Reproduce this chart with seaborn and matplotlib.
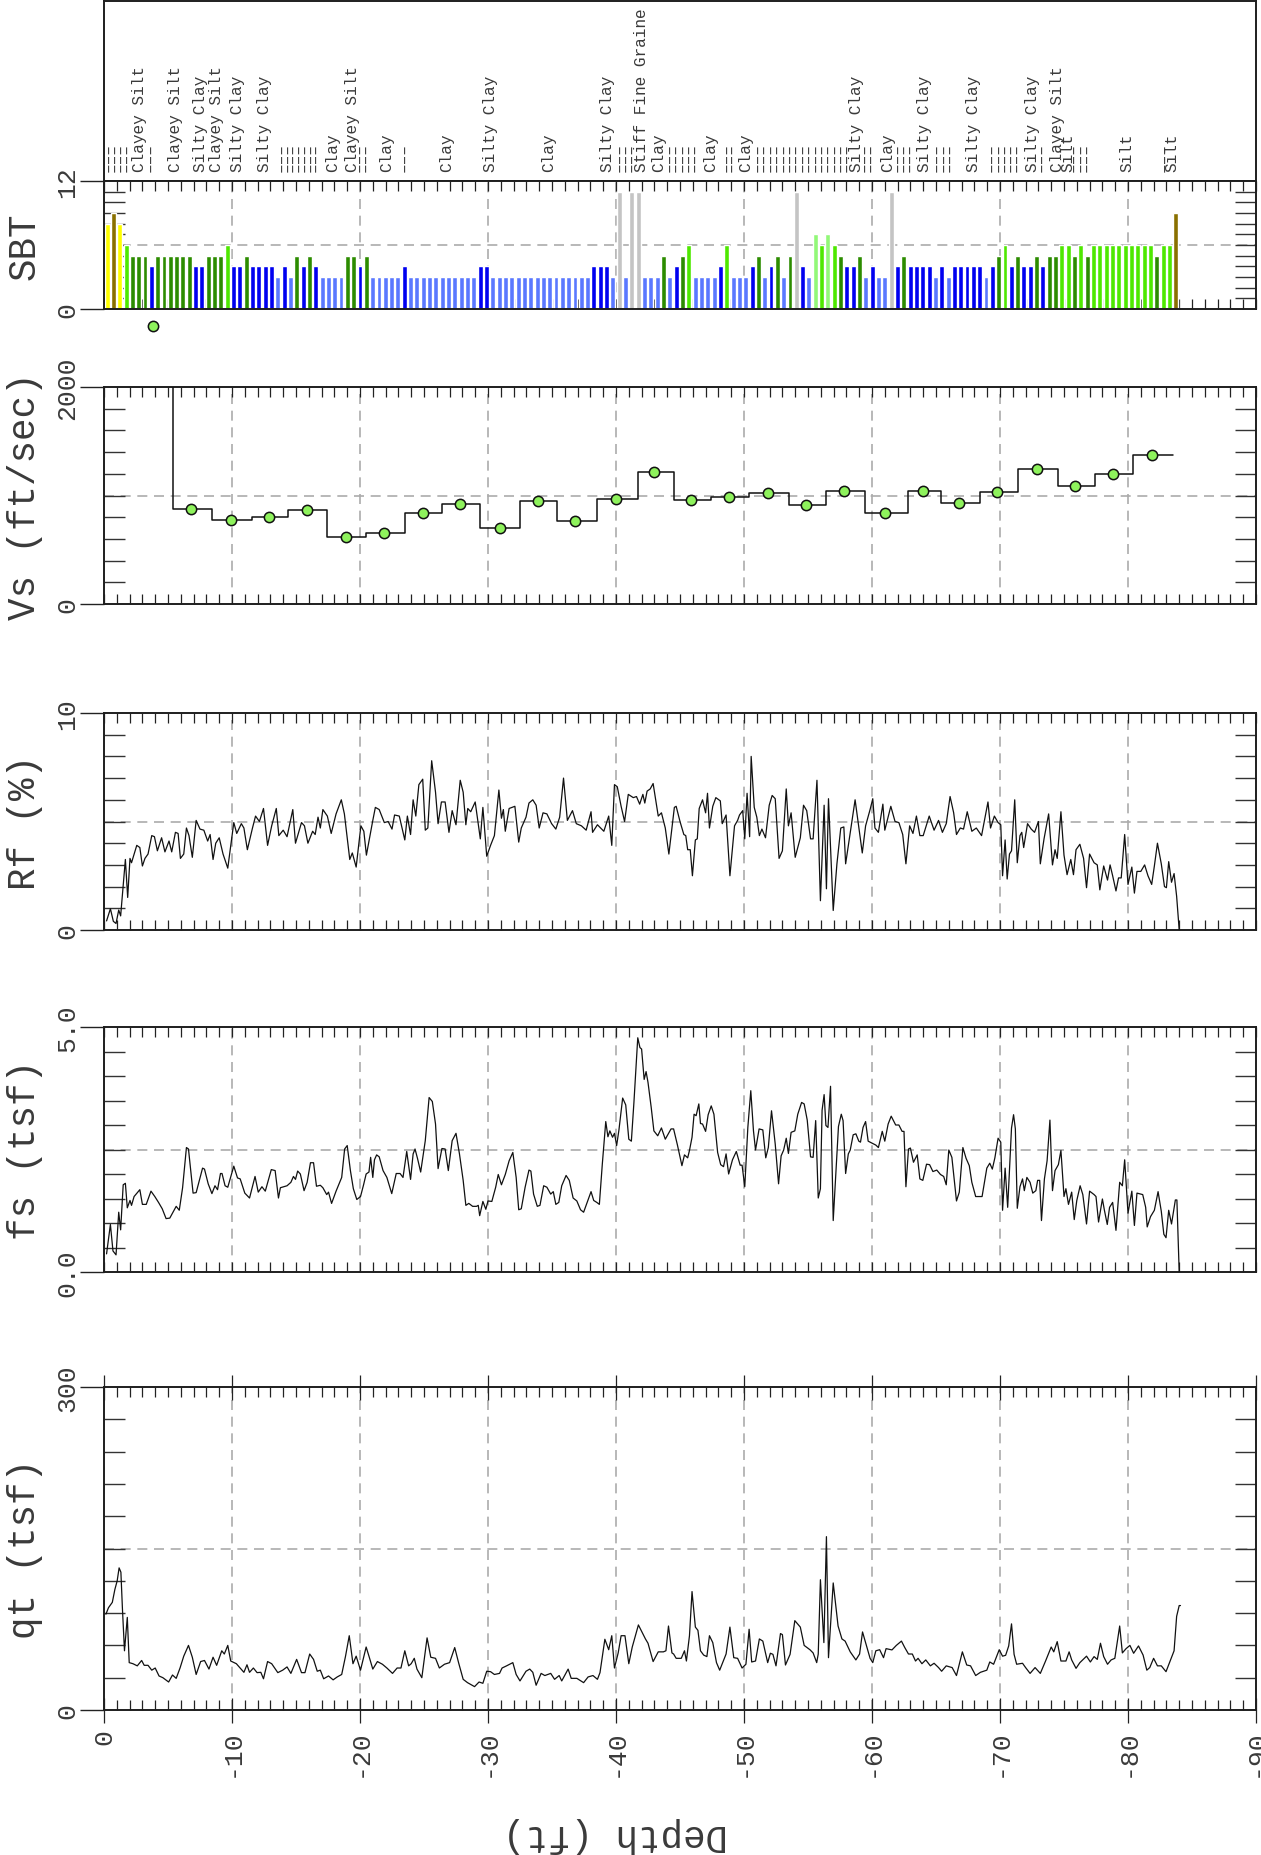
import numpy as np
import matplotlib
matplotlib.use("Agg")
import matplotlib.pyplot as plt
from matplotlib.ticker import MultipleLocator
import seaborn as sns

# ---- data -------------------------------------------------------------
# soil behaviour type per 0.5 ft bin (Robertson zones)
sbt_zone = [8, 9, 8, 6, 5, 5, 5, 4, 5, 5, 5, 5, 5, 5, 4, 4, 5, 5, 5, 6,
            4, 4, 5, 4, 4, 4, 4, 3, 4, 3, 5, 4, 5, 4, 3, 3, 3, 3, 5, 5,
            4, 5, 3, 3, 3, 3, 3, 4, 3, 3, 3, 3, 3, 3, 3, 3, 3, 3, 3, 4,
            4, 3, 3, 3, 3, 3, 3, 3, 3, 3, 3, 3, 3, 3, 3, 3, 3, 4, 4, 4,
            3, 11, 3, 11, 11, 3, 3, 3, 5, 3, 4, 5, 6, 3, 3, 3, 3, 4, 6, 3,
            3, 3, 4, 5, 3, 4, 5, 3, 5, 11, 4, 3, 7, 6, 7, 6, 5, 4, 4, 5,
            3, 4, 3, 3, 11, 4, 5, 4, 4, 4, 4, 3, 4, 3, 4, 4, 4, 4, 4, 3,
            4, 5, 6, 4, 5, 4, 4, 5, 4, 5, 5, 6, 6, 5, 6, 5, 6, 6, 6, 6,
            6, 6, 6, 6, 6, 6, 5, 6, 6, 9]
sbt_first = 0.24
sbt_step = 0.494
sbt_colors = {3: "#5a78ff", 4: "#0000f0", 5: "#2c8c00", 6: "#4ee800",
              7: "#92f878", 8: "#ffff00", 9: "#8a7000", 11: "#c4c4c4"}

THIN = "\u2013\u2013\u2013"   # marker used for layers too thin to name
label_depth = [0.42, 0.87, 1.3, 1.77, 2.8, 3.7, 5.57, 7.5, 8.8, 10.45, 12.5,
               13.9, 14.35, 14.8, 15.25, 15.7, 16.15, 16.6, 17.9, 19.4, 20.0,
               20.5, 22.1, 23.5, 26.8, 30.2, 34.7, 39.3, 40.35, 40.8, 41.25,
               42.0, 43.3, 44.2, 44.7, 45.2, 45.7, 46.2, 47.4, 48.65, 49.1,
               50.1, 51.1, 51.6, 52.1, 52.6, 53.1, 53.6, 54.1, 54.6, 55.1,
               55.6, 56.1, 56.6, 57.1, 57.6, 58.05, 58.75, 59.45, 59.9, 61.25,
               62.0, 62.5, 63.0, 64.1, 65.1, 65.6, 66.1, 67.9, 69.4, 69.9,
               70.4, 70.85, 71.3, 72.5, 73.3, 74.5, 75.3, 75.8, 76.3, 76.8,
               79.9, 82.9, 83.4]
label_text = [THIN, THIN, THIN, THIN, "Clayey Silt", THIN, "Clayey Silt",
              "Silty Clay", "Clayey Silt", "Silty Clay", "Silty Clay",
              THIN, THIN, THIN, THIN, THIN, THIN, THIN, "Clay",
              "Clayey Silt", THIN, THIN, "Clay", THIN, "Clay", "Silty Clay",
              "Clay", "Silty Clay", THIN, THIN, THIN, "Stiff Fine Graine",
              "Clay", THIN, THIN, THIN, THIN, THIN, "Clay", THIN, THIN,
              "Clay", THIN, THIN, THIN, THIN, THIN, THIN, THIN, THIN,
              THIN, THIN, THIN, THIN, THIN, THIN, THIN, "Silty Clay",
              THIN, THIN, "Clay", THIN, THIN, THIN, "Silty Clay", THIN,
              THIN, THIN, "Silty Clay", THIN, THIN, THIN, THIN, THIN,
              "Silty Clay", THIN, "Clayey Silt", "Silt", THIN, THIN, THIN,
              "Silt", THIN, "Silt"]

vs_bounds = [0, 5.4, 8.45, 11.55, 14.4, 17.4, 20.5, 23.5, 26.4, 29.4, 32.5,
             35.4, 38.5, 41.7, 44.5, 47.4, 50.4, 53.5, 56.4, 59.45, 62.8,
             65.4, 68.4, 71.4, 74.5, 77.4, 80.4, 83.5]
vs_value = [2560, 876, 771, 802, 866, 614, 657, 839, 922, 700, 949, 762, 968,
            1214, 962, 986, 1023, 909, 1041, 839, 1041, 928, 1029, 1241, 1084,
            1198, 1376]
vs_test_depth = [3.8, 6.8, 9.9, 12.9, 15.85, 18.9, 21.9, 24.9, 27.8, 30.9,
                 33.9, 36.8, 40.0, 43.0, 45.85, 48.8, 51.85, 54.85, 57.8, 61.0,
                 64.0, 66.8, 69.8, 72.9, 75.85, 78.8, 81.85]

rf_depth = [0.2, 0.5, 0.73, 0.94, 1.15, 1.3, 1.67, 1.85, 2.03, 2.15, 2.56, 2.8,
            3.0, 3.2, 3.44, 3.73, 3.94, 4.17, 4.5, 4.76, 5.08, 5.29, 5.58, 5.79,
            5.97, 6.23, 6.44, 6.64, 6.9, 7.2, 7.5, 7.8, 8.1, 8.29, 8.52, 8.73,
            9.0, 9.3, 9.67, 10.14, 10.37, 10.73, 10.93, 11.2, 11.6, 11.84,
            12.14, 12.46, 12.78, 13.1, 13.46, 13.66, 14.0, 14.3, 14.75, 14.96,
            15.43, 15.66, 15.93, 16.3, 16.5, 16.72, 16.9, 17.1, 17.45, 17.75,
            18.13, 18.54, 18.78, 19.2, 19.4, 19.7, 20.07, 20.3, 20.5, 21.0,
            21.2, 21.5, 21.9, 22.2, 22.5, 22.7, 23.07, 23.5, 23.7, 23.95, 24.15,
            24.36, 24.6, 24.9, 25.1, 25.3, 25.6, 25.9, 26.1, 26.36, 26.65,
            26.95, 27.2, 27.5, 27.83, 28.06, 28.27, 28.42, 28.65, 29.0, 29.4,
            29.6, 29.9, 30.2, 30.5, 30.85, 31.05, 31.2, 31.35, 31.65, 32.1,
            32.4, 32.6, 32.97, 33.2, 33.5, 33.76, 34.0, 34.3, 34.6, 34.97, 35.3,
            35.6, 35.9, 36.2, 36.6, 36.9, 37.3, 37.67, 38.05, 38.17, 38.55,
            39.05, 39.43, 39.67, 39.88, 40.1, 40.4, 40.67, 40.96, 41.35, 41.6,
            41.85, 42.1, 42.25, 42.43, 42.67, 42.9, 43.3, 43.55, 43.85, 44.13,
            44.56, 44.7, 45.0, 45.3, 45.45, 45.6, 45.8, 45.97, 46.2, 46.35,
            46.5, 46.76, 47.0, 47.15, 47.3, 47.56, 47.8, 48.15, 48.3, 48.6,
            48.9, 49.26, 49.5, 49.65, 49.9, 50.06, 50.24, 50.44, 50.56, 50.8,
            51.0, 51.2, 51.4, 51.68, 51.97, 52.2, 52.44, 52.74, 53.0, 53.3,
            53.47, 53.68, 54.0, 54.4, 54.65, 54.9, 55.2, 55.4, 55.7, 55.97,
            56.26, 56.44, 56.6, 56.97, 57.26, 57.56, 57.8, 57.94, 58.3, 58.68,
            58.97, 59.24, 59.5, 59.85, 60.06, 60.23, 60.5, 60.85, 61.0, 61.47,
            61.8, 62.1, 62.4, 62.65, 62.94, 63.2, 63.47, 63.74, 64.0, 64.47,
            64.85, 65.2, 65.5, 65.8, 66.1, 66.38, 66.6, 66.9, 67.15, 67.44,
            67.8, 68.15, 68.56, 69.06, 69.26, 69.56, 69.85, 70.06, 70.2, 70.4,
            70.56, 70.74, 70.9, 71.15, 71.35, 71.56, 71.7, 71.85, 72.15, 72.44,
            72.7, 73.0, 73.15, 73.44, 73.8, 74.1, 74.3, 74.47, 74.76, 75.0,
            75.24, 75.53, 75.74, 75.94, 76.24, 76.53, 76.76, 77.0, 77.35, 77.6,
            77.8, 78.1, 78.4, 78.6, 78.8, 79.06, 79.26, 79.47, 79.74, 80.0,
            80.3, 80.5, 80.7, 81.0, 81.3, 81.56, 81.85, 82.06, 82.3, 82.6,
            82.85, 83.0, 83.18, 83.4, 83.6, 83.8, 84.0]
rf_value = [0.42, 0.98, 0.4, 0.3, 0.92, 0.65, 3.25, 1.5, 3.3, 3.1, 3.9, 3.8,
            2.95, 3.3, 3.5, 4.35, 4.3, 3.65, 4.25, 3.6, 4.1, 3.6, 4.5, 4.45,
            3.3, 3.5, 4.7, 4.35, 3.35, 5.05, 4.65, 4.6, 4.1, 4.4, 3.25, 4.0,
            4.25, 3.5, 2.85, 4.95, 4.45, 4.9, 4.7, 3.7, 4.7, 5.25, 5.0, 5.6,
            3.9, 4.8, 5.6, 4.35, 4.6, 4.3, 5.55, 4.0, 4.95, 4.8, 4.0, 4.55,
            4.4, 5.2, 4.7, 5.55, 5.25, 4.45, 5.35, 6.0, 5.35, 3.25, 3.55, 2.9,
            4.8, 4.55, 3.45, 5.05, 5.65, 5.55, 4.95, 5.0, 4.65, 5.3, 5.25,
            4.15, 5.25, 4.4, 6.0, 5.25, 6.7, 6.95, 4.6, 4.7, 7.8, 6.35, 4.9,
            5.9, 5.9, 4.5, 5.5, 4.85, 6.9, 6.35, 4.85, 5.6, 5.45, 5.9, 4.2,
            5.65, 3.4, 3.9, 4.35, 6.45, 5.15, 5.55, 4.55, 5.6, 5.7, 4.05, 4.7,
            5.2, 5.85, 6.0, 5.75, 4.7, 5.4, 5.35, 4.9, 4.65, 5.2, 7.0, 5.05,
            5.5, 4.9, 4.8, 4.6, 5.45, 4.5, 4.85, 4.55, 5.25, 3.9, 6.7, 6.6,
            5.7, 5.0, 6.25, 6.1, 6.15, 5.8, 6.25, 5.85, 6.4, 6.5, 6.75, 5.25,
            5.4, 4.7, 3.5,
            5.65, 5.7, 5.0, 4.4, 4.35, 3.7, 3.7, 2.5, 4.15, 4.2, 5.6, 6.0,
            5.4, 6.3, 4.7, 5.7, 6.1, 5.95, 4.9, 5.3, 2.5, 4.8, 5.05, 5.3, 5.5,
            4.2, 6.3, 4.3, 8.0, 5.65, 5.2, 4.35, 4.65, 4.25, 5.75, 6.2, 6.05,
            3.3, 3.65, 6.5, 4.8, 5.4, 3.35, 4.25, 5.75, 5.5, 4.2, 4.2, 6.9,
            1.35, 5.75, 1.9, 6.05, 0.9, 3.05, 4.7, 4.75, 3.05, 4.5, 6.0, 4.75,
            3.55, 4.8, 5.55, 6.05, 4.7, 4.5, 5.8, 4.6, 5.7, 5.0, 4.95, 4.4,
            3.05, 4.8, 4.45, 5.25, 4.35, 4.35, 5.25, 4.6, 5.05, 4.5, 4.9,
            6.15, 5.4, 4.4, 4.7, 4.65, 5.45, 4.55, 4.7, 4.35, 5.9, 4.7, 5.25,
            4.95, 4.85, 2.5, 4.15, 2.35, 3.5, 3.65, 6.0, 3.1, 4.35, 4.5, 3.8,
            4.9, 4.65, 4.5, 5.0, 3.05, 4.2, 5.35, 3.0, 3.7, 3.3, 5.45, 3.45,
            2.55, 3.25, 2.55, 3.7, 3.95, 3.3, 1.95, 3.5, 3.1, 3.0, 1.85, 2.95,
            2.3, 3.0, 2.5, 1.8, 2.4, 2.4, 4.4, 2.1, 2.9, 1.7, 2.7, 2.7, 3.0,
            2.5, 2.1, 2.95, 4.0, 3.05, 2.0, 1.95, 3.15, 2.2, 2.6, 1.55, 0.0]

fs_depth = [0.2, 0.5, 0.7, 0.94, 1.15, 1.3, 1.5, 1.67, 1.82, 2.03, 2.15, 2.35,
            2.8, 3.0, 3.3, 3.67, 3.97, 4.26, 4.55, 4.85, 5.14, 5.64, 5.88,
            6.14, 6.44, 6.6, 6.96, 7.2, 7.7, 7.85, 8.14, 8.43, 8.67, 8.87, 9.1,
            9.22, 9.46, 9.67, 10.14, 10.43, 10.64, 11.0, 11.37, 11.8, 12.05,
            12.34, 12.6, 13.07, 13.37, 13.63, 13.78, 14.3, 14.6, 14.8, 14.96,
            15.13, 15.34, 15.63, 15.87, 16.13, 16.37, 16.6, 16.9, 17.1, 17.4,
            17.54, 17.78, 18.13, 18.57, 18.8, 19.0, 19.25, 19.48, 19.75, 20.04,
            20.28, 20.48, 20.7, 20.83, 21.0, 21.13, 21.3, 21.5, 21.8, 22.1,
            22.48, 22.83, 23.13, 23.36, 23.65, 23.95, 24.15, 24.3, 24.5, 24.74,
            25.1, 25.4, 25.65, 25.9, 26.1, 26.4, 26.65, 26.9, 27.2, 27.5,
            27.77, 28.06, 28.27, 28.5, 28.8, 29.1, 29.24, 29.35, 29.6, 29.83,
            30.0, 30.3, 30.6, 30.8, 31.05, 31.35, 31.65, 31.94, 32.2, 32.4,
            32.6, 32.9, 33.2, 33.35, 33.56, 33.85, 34.06, 34.35, 34.6, 34.9,
            35.1, 35.3, 35.53, 35.76, 36.1, 36.35, 36.65, 36.94, 37.23, 37.47,
            37.75, 38.05, 38.26, 38.5, 38.7, 38.93, 39.2, 39.37, 39.52, 39.73,
            39.88, 40.05, 40.23, 40.52, 40.76, 41.0, 41.2, 41.4, 41.7, 41.87,
            42.0, 42.2, 42.35, 42.5, 42.75, 42.96, 43.26, 43.55, 43.85, 44.3,
            44.5,
            44.8, 45.15, 45.35, 45.6, 45.74, 45.94, 46.1, 46.26, 46.47, 46.6,
            46.76, 47.0, 47.2, 47.44, 47.65, 47.94, 48.18, 48.4, 48.6, 48.8,
            49.1, 49.4, 49.7, 49.85, 50.06, 50.3, 50.53, 50.74, 50.9, 51.18,
            51.47, 51.7, 51.9, 52.15, 52.44, 52.7, 52.9, 53.1, 53.3, 53.47,
            53.68, 53.97, 54.2, 54.5, 54.7, 54.94, 55.2, 55.4, 55.6, 55.8,
            55.97, 56.1, 56.26, 56.4, 56.56, 56.76, 56.97, 57.2, 57.38, 57.6,
            57.74, 57.94, 58.15, 58.3, 58.53, 58.74, 58.97, 59.1, 59.3, 59.5,
            59.7, 60.0, 60.3, 60.5, 60.8, 61.0, 61.26, 61.5, 61.85, 62.1,
            62.35, 62.5, 62.65, 62.85, 63.0, 63.24, 63.53, 63.74, 63.97, 64.26,
            64.5, 64.76, 65.06, 65.35, 65.6, 65.8, 66.0, 66.24, 66.6, 66.82,
            67.1, 67.35, 67.6, 67.8, 68.1, 68.6, 68.97, 69.2, 69.4, 69.6,
            69.85, 70.06, 70.2, 70.4, 70.6, 70.9, 71.06, 71.2, 71.35, 71.56,
            71.76, 71.9, 72.1, 72.35, 72.56, 72.8, 72.94, 73.1, 73.24, 73.47,
            73.68, 73.9, 74.1, 74.3, 74.56, 74.76, 75.0, 75.15, 75.35, 75.6,
            75.8, 76.0, 76.26, 76.47, 76.76, 77.0, 77.35, 77.5, 77.7, 78.0,
            78.15, 78.38, 78.56, 78.8, 79.06, 79.35, 79.56, 79.74, 80.0, 80.3,
            80.5, 80.7, 81.15, 81.38, 81.5, 81.76, 82.06, 82.35, 82.6, 82.8,
            82.97, 83.18, 83.4, 83.7, 83.82, 84.0]
fs_value = [0.37, 0.97, 0.43, 0.35, 1.22, 0.86, 1.78, 1.81, 1.31, 1.46, 1.36,
            1.54, 1.68, 1.38, 1.38, 1.65, 1.54, 1.42, 1.29, 1.09, 1.1, 1.34,
            1.26, 1.72, 2.54, 2.51, 1.61, 1.62, 2.12, 2.1, 1.8, 1.6, 1.76,
            1.68, 2.01, 2.01, 1.76, 1.73, 2.16, 1.92, 1.9, 1.61, 1.51, 1.95,
            1.63, 1.74, 1.65, 2.09, 2.07, 1.51, 1.72, 1.76, 1.83, 1.95, 1.89,
            2.06, 2.0, 1.66, 1.83, 2.23, 2.23, 1.75, 1.77, 1.72, 1.58, 1.63,
            1.4, 1.65, 1.93, 2.51, 2.58, 2.07, 1.7, 1.48, 1.54, 1.78, 2.0,
            2.04, 2.34, 1.93, 2.29, 2.39, 2.35, 2.07, 1.93, 1.6, 2.01, 2.01,
            1.93, 2.46, 1.89, 2.41, 2.51, 2.31, 2.04, 2.68, 3.56, 3.48, 3.02,
            2.11, 2.52, 2.51, 2.07, 2.68, 2.83, 2.41, 1.87, 1.36, 1.4, 1.34,
            1.34, 1.36, 1.15, 1.44, 1.28, 1.45, 1.44, 1.73, 1.99, 1.78, 1.99,
            2.27, 2.44, 1.93, 1.27, 1.29, 1.73, 2.08, 2.06, 1.59, 1.34, 1.36,
            1.76, 1.73, 1.59, 1.64, 1.38, 1.42, 1.76, 1.97, 1.87, 1.51, 1.45,
            1.27, 1.22, 1.42, 1.64, 1.46, 1.42, 1.38, 2.2, 3.07, 2.76, 2.88,
            2.75, 2.83, 2.58, 2.9, 3.55, 3.41, 2.71, 2.67, 3.46, 4.78, 4.58,
            4.55, 3.93, 4.09, 3.87, 3.36, 2.88, 2.78, 2.94, 2.71, 2.92, 2.92,
            2.59, 2.17, 2.39, 2.33, 2.48, 2.75, 3.22, 3.19, 3.43, 3.03, 3.02,
            2.87, 3.21, 3.39, 3.22, 2.44, 2.19, 2.15, 2.41, 2.0, 2.29, 2.46,
            2.18, 2.18, 1.74, 2.95, 3.7, 2.88, 2.49, 2.92, 2.9, 2.33, 2.54,
            3.29, 2.61, 1.8, 2.37, 2.49, 2.73, 2.42, 2.85, 2.88, 3.22, 3.46,
            3.43, 3.1, 2.35, 2.34, 3.09, 1.51, 1.7, 3.3, 3.62, 2.99, 2.95,
            3.79, 1.05, 2.14, 2.97, 3.22, 3.09, 2.01, 2.41, 2.49, 2.8, 2.82,
            2.67, 2.65, 2.95, 3.07, 2.67, 2.63, 2.59, 2.54, 2.87, 2.67, 3.02,
            3.18, 3.0, 3.0, 2.87, 2.87, 1.74, 2.51, 2.53, 2.24, 2.39, 1.9,
            1.87, 2.2, 2.19, 2.05, 2.08, 1.99, 1.95, 1.78, 2.49, 2.34, 1.45,
            1.63, 2.54, 2.32, 2.17, 1.83, 1.54, 1.54, 2.12, 2.22, 2.1, 2.33,
            2.73, 2.65, 1.26, 2.12, 1.32, 2.94, 3.21, 2.92, 1.3, 1.74, 1.9,
            1.66, 1.93, 1.83, 1.61, 1.66, 1.87, 1.87, 1.05, 1.9, 2.27, 3.1,
            1.66, 2.07, 2.19, 2.48, 1.54, 1.7, 1.38, 1.63, 1.07, 1.46, 1.76,
            1.58, 0.98, 1.65, 1.58, 1.54, 1.02, 1.49, 1.27, 0.97, 1.32, 1.42,
            0.85, 1.83, 1.76, 2.29, 1.2, 1.65, 0.95, 1.61, 1.58, 1.32, 0.92,
            1.13, 1.26, 1.64, 1.24, 0.77, 0.7, 1.26, 0.98, 1.47, 1.47, 0.0]

qt_depth = [0.15, 0.35, 0.65, 0.85, 1.03, 1.18, 1.32, 1.44, 1.6, 1.82, 1.97,
            2.26, 2.6, 2.94, 3.14, 3.44, 3.73, 4.0, 4.3, 4.6, 5.05, 5.35, 5.64,
            5.94, 6.23, 6.6, 6.9, 7.2, 7.55, 7.85, 8.2, 8.52, 8.8, 9.2, 9.4,
            9.67, 9.9, 10.34, 10.64, 10.93, 11.17, 11.37, 11.67, 11.96, 12.25,
            12.46, 12.78, 13.1, 13.58, 13.96, 14.3, 14.6, 15.05, 15.43, 15.7,
            16.07, 16.37, 16.66, 16.9, 17.16, 17.54, 17.9, 18.22, 18.57, 18.87,
            19.16, 19.45, 19.7, 20.04, 20.48, 20.7, 21.0, 21.36, 21.75, 22.1,
            22.54, 22.9, 23.2, 23.5, 23.8, 24.0, 24.24, 24.45, 24.83, 25.24,
            25.53, 25.9, 26.2, 26.6, 27.0, 27.4, 27.7, 28.06, 28.4, 28.95,
            29.3, 29.6, 29.9, 30.2, 30.5, 30.9, 31.1, 31.45, 31.94, 32.2, 32.5,
            32.97, 33.26, 33.5, 33.76, 34.15, 34.44, 34.9, 35.2, 35.56, 35.76,
            36.26, 36.5, 36.94, 37.47, 37.82, 38.2, 38.55, 38.75, 39.13,
            39.43, 39.67, 39.88, 40.17, 40.4, 40.7, 41.0, 41.27, 41.75, 42.0,
            42.3, 42.5, 42.9, 43.3, 43.7, 43.9, 44.1, 44.37,
            44.5, 44.7, 45.1, 45.35, 45.5, 45.74, 45.94, 46.2, 46.4, 46.6,
            46.85, 47.1, 47.3, 47.56, 47.85, 48.1, 48.3, 48.6, 48.9, 49.2,
            49.5, 49.85, 50.15, 50.4, 50.6, 50.9, 51.2, 51.47, 51.85, 52.06,
            52.26, 52.5, 52.85, 53.0, 53.24, 53.6, 53.97, 54.4, 54.7, 55.15,
            55.4, 55.68, 55.8, 55.97, 56.24, 56.44, 56.6, 56.97, 57.35, 57.65,
            57.9, 58.3, 58.74, 59.03, 59.26, 59.56, 59.85, 60.06, 60.3, 60.6,
            60.9, 61.1, 61.56, 61.9, 62.3, 62.56, 62.85, 63.15, 63.4, 63.6,
            63.9, 64.2, 64.56, 64.85, 65.2, 65.44, 65.8, 66.26, 66.6, 67.06,
            67.4, 67.7, 68.1, 68.47, 68.97, 69.2, 69.5, 69.94, 70.2, 70.44,
            70.68, 70.9, 71.1, 71.3, 71.76, 72.0, 72.35, 72.74, 73.15, 73.56,
            74.0, 74.2, 74.47, 74.76, 75.15, 75.4, 75.6, 75.94, 76.24, 76.76,
            77.06, 77.35, 77.6, 77.85, 78.1, 78.4, 78.68, 78.97, 79.35, 79.56,
            79.85, 80.15, 80.44, 80.82, 81.18, 81.47, 81.7, 82.0, 82.3, 82.6,
            82.97, 83.24, 83.6, 83.8, 84.0, 84.1]
qt_value = [89, 95, 100, 112, 120, 132, 128, 94, 55, 86, 44, 43, 41, 46, 41.5,
            41.5, 37, 39, 31.6, 30, 26, 32.5, 29.4, 39, 50, 60, 49, 33, 45, 46,
            38, 49, 41.5, 55, 52, 60, 45.5, 43, 39, 35, 42, 35, 39, 34.7, 35,
            29, 45, 43, 34.7, 37, 40, 34, 47, 34.7, 34.7, 52, 47, 36, 37, 29,
            31.6, 28, 30.7, 33, 50, 69, 43, 50, 37, 58.5, 50, 38, 45, 42.5,
            39, 34, 39, 39, 55, 41, 43, 48, 38, 30, 67, 49, 48, 39, 42.5, 44,
            58, 44, 28.5, 25.4, 21.7, 26, 24.8, 36, 35.6, 33, 34, 39, 41, 44,
            33, 27, 36, 38, 35, 23, 34, 32, 34, 28.5, 32, 27, 38, 29.4, 29.4,
            25.4, 30.7, 32, 28.5, 34.7, 65.7, 56, 69, 39, 53, 69, 69, 43,
            58.5, 79, 73, 66, 62, 45, 54, 54, 55, 78, 53,
            52, 48, 48, 55, 45.5, 69, 110, 77, 74, 55, 51, 49.6, 69, 62.6, 44,
            37, 43, 52, 77, 48.6, 48, 39, 42.5, 75, 44.6, 45.5, 66, 64, 44,
            52.7, 51.7, 41, 71, 70, 41.8, 51.7, 83, 77, 60, 56, 53, 44, 52,
            121, 62.6, 161, 48.6, 118, 78, 66, 64, 54, 46.5, 52, 72.5, 60, 48,
            44, 55, 56, 48.6, 57, 55.8, 60, 64, 58, 52, 52, 45.5, 48, 43,
            46.5, 41, 43.4, 39.4, 36, 41, 39.4, 32, 54, 41.8, 41, 32, 35, 37,
            44.6, 42.5, 56, 50, 50.8, 59.5, 80, 51.7, 42.5, 43.4, 39.4, 34,
            39.4, 34, 45.5, 58.5, 54, 63.5, 45.5, 45.5, 54, 46.5, 38.7, 44, 50,
            44.6, 49.6, 47, 62, 49.6, 42.5, 46.5, 48, 78, 53, 57, 60, 52.7,
            59.5, 51, 37, 39.4, 48, 41, 41, 35.6, 44, 55, 87, 97, 97]

# ---- style ------------------------------------------------------------
sns.set_theme(style="ticks")
plt.rcParams["font.family"] = ["Liberation Mono", "DejaVu Sans Mono"]
ink = "#3a3a3a"
grid_kw = dict(color="#ababab", lw=1.2, ls=(0, (6, 4)))

W, H = 1261, 1856
fig = plt.figure(figsize=(W / 100, H / 100), dpi=100)
X0, X1 = 104, 1256


def panel(top, bottom):
    return fig.add_axes([X0 / W, 1 - bottom / H, (X1 - X0) / W, (bottom - top) / H])


def style_panel(ax, ymax, yminor, ylabel, ytick_labels, last=False):
    ax.set_xlim(0, -90)
    ax.set_ylim(0, ymax)
    ax.set_xticks(range(0, -91, -10))
    ax.xaxis.set_minor_locator(MultipleLocator(1))
    ax.set_yticks([0, ymax])
    ax.set_yticklabels(ytick_labels, rotation=90, va="center")
    ax.yaxis.set_minor_locator(MultipleLocator(yminor))
    ax.tick_params(axis="x", which="both", direction="in", top=True,
                   bottom=True, length=7, width=0.9, color="#222222",
                   labelbottom=False)
    ax.tick_params(axis="y", which="major", direction="out", left=True,
                   right=False, length=17, width=1.0, color="#222222",
                   labelsize=19, labelcolor=ink, pad=1)
    ax.tick_params(axis="y", which="minor", direction="in", left=True,
                   right=True, length=15, width=1.0, color="#333333")
    if last:
        ax.tick_params(axis="x", which="major", direction="inout", length=18,
                       labelbottom=True, labelrotation=90, labelsize=19,
                       labelcolor=ink, pad=4)
        ax.set_xticklabels([str(v) for v in range(0, -91, -10)])
    for s in ax.spines.values():
        s.set_color("#1e1e1e")
        s.set_linewidth(1.4)
    ax.grid(True, axis="x", which="major", **grid_kw)
    ax.axhline(ymax / 2, zorder=0.5, **grid_kw)
    ax.set_axisbelow(True)
    ax.set_xlabel("")
    ax.set_ylabel(ylabel, fontsize=27, color=ink, rotation=90, va="center",
                  ha="center")
    ax.yaxis.set_label_coords(-0.069, 0.5)


# ---- label strip ------------------------------------------------------
ax_lab = panel(2, 182)
ax_lab.set_xlim(0, -90)
ax_lab.set_ylim(0, 1)
ax_lab.set_xticks([])
ax_lab.set_yticks([])
for s in ax_lab.spines.values():
    s.set_color("#1e1e1e")
    s.set_linewidth(1.4)
for d, t in zip(label_depth, label_text):
    ax_lab.text(-d, 0.055, t, rotation=90, ha="center", va="bottom",
                fontsize=11.6, color=ink)

# ---- SBT --------------------------------------------------------------
ax_sbt = panel(182, 310)
sbt_depth = [-(sbt_first + sbt_step * i) for i in range(len(sbt_zone))]
sns.barplot(x=sbt_depth, y=sbt_zone, hue=sbt_zone, palette=sbt_colors,
            native_scale=True, dodge=False, width=0.78, saturation=1,
            errorbar=None, legend=False, ax=ax_sbt, zorder=2)
style_panel(ax_sbt, 12, 1, "SBT", ["0", "12"])

# ---- Vs ---------------------------------------------------------------
ax_vs = panel(388, 605)
sns.lineplot(x=[-d for d in vs_bounds], y=vs_value + [vs_value[-1]],
             drawstyle="steps-post", estimator=None, sort=False,
             color="#111111", lw=1.1, ax=ax_vs, zorder=3)
sns.scatterplot(x=[-d for d in vs_test_depth], y=vs_value, s=55,
                color="#8ef25c", edgecolor="#111111", linewidth=1.1,
                ax=ax_vs, zorder=4, clip_on=False, legend=False)
style_panel(ax_vs, 2000, 200, "Vs (ft/sec)", ["0", "2000"])

# ---- Rf ---------------------------------------------------------------
ax_rf = panel(714, 931)
sns.lineplot(x=[-d for d in rf_depth], y=rf_value, estimator=None,
             sort=False, color="#111111", lw=0.9, ax=ax_rf, zorder=3)
style_panel(ax_rf, 10, 1, "Rf (%)", ["0", "10"])

# ---- fs ---------------------------------------------------------------
ax_fs = panel(1028, 1273)
sns.lineplot(x=[-d for d in fs_depth], y=fs_value, estimator=None,
             sort=False, color="#111111", lw=0.9, ax=ax_fs, zorder=3)
style_panel(ax_fs, 5, 0.5, "fs (tsf)", ["0.0", "5.0"])

# ---- qt ---------------------------------------------------------------
ax_qt = panel(1388, 1711)
sns.lineplot(x=[-d for d in qt_depth], y=qt_value, estimator=None,
             sort=False, color="#111111", lw=0.9, ax=ax_qt, zorder=3)
style_panel(ax_qt, 300, 30, "qt (tsf)", ["0", "300"], last=True)

fig.text(615 / W, 1 - 1835 / H, "Depth (ft)", rotation=180, ha="center",
         va="center", fontsize=27, color=ink)

fig.savefig("out.png", dpi=100)
